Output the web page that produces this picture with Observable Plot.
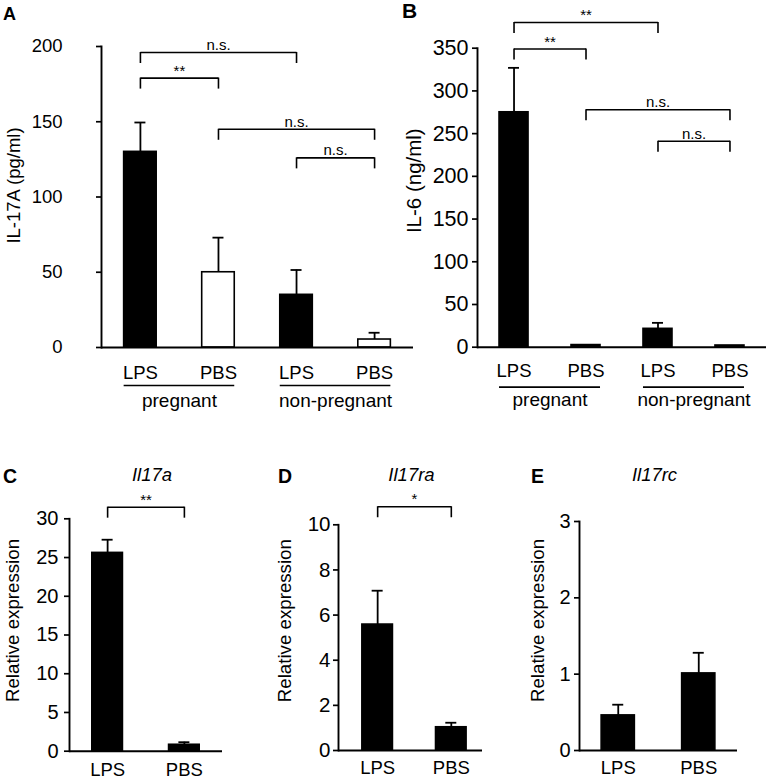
<!DOCTYPE html>
<html>
<head>
<meta charset="utf-8">
<script src="https://cdn.jsdelivr.net/npm/d3@7"></script>
<script src="https://cdn.jsdelivr.net/npm/@observablehq/plot@0.6"></script>
<style>
  body { margin: 0; background: #fff; }
  #fig { position: relative; width: 767px; height: 779px; overflow: hidden; background: #fff;
         font-family: "Liberation Sans", Arial, Helvetica, sans-serif; color: #000; }
  .panel { position: absolute; }
  .lbl { position: absolute; line-height: 1; white-space: nowrap; }
</style>
</head>
<body>
<div id="fig"></div>
<script>
const FONT = '"Liberation Sans", Arial, Helvetica, sans-serif';

// ---------- data ----------
const treatments = ["LPS", "PBS"];
const groups = ["pregnant", "non-pregnant"];

// Panel A: IL-17A (pg/ml), order LPS/PBS pregnant, LPS/PBS non-pregnant
const il17aMean = [130, 50, 35, 5.3];
const il17aSem  = [19.5, 23, 16.5, 4.5];
const il17aTicks = [0, 50, 100, 150, 200];
const bracketsA = [
  { a: "LPS|pregnant", b: "LPS|non-pregnant", y: 196, label: "n.s." },
  { a: "LPS|pregnant", b: "PBS|pregnant", y: 179, label: "**" },
  { a: "PBS|pregnant", b: "PBS|non-pregnant", y: 145, label: "n.s." },
  { a: "LPS|non-pregnant", b: "PBS|non-pregnant", y: 126, label: "n.s." }
];

// Panel B: IL-6 (ng/ml)
const il6Mean = [275, 2.5, 21.5, 2];
const il6Sem  = [52, 0, 7, 0];
const il6Ticks = [0, 50, 100, 150, 200, 250, 300, 350];
const bracketsB = [
  { a: "LPS|pregnant", b: "LPS|non-pregnant", y: 380, label: "**" },
  { a: "LPS|pregnant", b: "PBS|pregnant", y: 349, label: "**" },
  { a: "PBS|pregnant", b: "PBS|non-pregnant", y: 278, label: "n.s." },
  { a: "LPS|non-pregnant", b: "PBS|non-pregnant", y: 241, label: "n.s." }
];

// Panels C-E: relative expression, LPS vs PBS
const il17aRelMean = [25.6, 0.83];
const il17aRelSem  = [1.7, 0.33];
const il17aRelTicks = [0, 5, 10, 15, 20, 25, 30];
const bracketsC = [{ a: "LPS", b: "PBS", y: 31.5, label: "**" }];

const il17raMean = [5.58, 1.03];
const il17raSem  = [1.5, 0.2];
const il17raTicks = [0, 2, 4, 6, 8, 10];
const bracketsD = [{ a: "LPS", b: "PBS", y: 10.8, label: "*" }];

const il17rcMean = [0.46, 1.01];
const il17rcSem  = [0.14, 0.27];
const il17rcTicks = [0, 1, 2, 3];
const bracketsE = [];

// ---------- drawing ----------
const groupedCats = groups.flatMap(g => treatments.map(t => `${t}|${g}`));
const fig = document.getElementById("fig");

function drawPanel(c) {
  const n = c.cats.length;
  const range = c.width - c.marginLeft - c.marginRight;
  const step = range / (n - c.pIn + 2 * c.pOut);
  const bw = step * (1 - c.pIn);
  const capInset = (bw - 11) / 2;
  const idx = k => c.cats.indexOf(k);
  const data = c.cats.map((k, i) => ({ k, t: k.split("|")[0], v: c.means[i], e: c.sems[i] }));
  const withErr = data.filter(d => d.e > 0);
  const drops = c.brackets.flatMap(b => [{ x: b.a, y: b.y }, { x: b.b, y: b.y }]);
  const bfs = 15;

  const marks = [
    Plot.barY(data, {
      x: "k", y: "v",
      fill: d => (c.hollowPBS && d.t === "PBS") ? "white" : "black",
      stroke: "black", strokeWidth: 1.6
    }),
    Plot.ruleX(withErr, { x: "k", y1: "v", y2: d => d.v + d.e, strokeWidth: 1.8 }),
    Plot.tickY(withErr, { x: "k", y: d => d.v + d.e, insetLeft: capInset, insetRight: capInset, strokeWidth: 1.8 }),
    Plot.ruleY([0], { strokeWidth: 1.9 }),
    Plot.frame({ anchor: "left", strokeWidth: 1.9 }),
    Plot.axisY({ ticks: c.yTicks, tickSize: 5, tickPadding: c.tickPadding, fontSize: c.tickFontSize,
                 tickFormat: d => String(d), label: null, strokeWidth: 1.7 }),
    Plot.axisX({ tickSize: 0, tickPadding: c.xPad, fontSize: 18.5, label: null,
                 tickFormat: d => d.split("|")[0] }),
    Plot.text([c.yLabel], { frameAnchor: "left", textAnchor: "middle", lineAnchor: "middle",
                            rotate: -90, dx: c.labelDx, dy: c.labelDy,
                            fontSize: c.yLabelSize, text: d => d }),
    Plot.link(c.brackets, { x1: "a", x2: "b", y1: "y", y2: "y", strokeWidth: 1.6 }),
    Plot.ruleX(drops, { x: "x", y1: "y", y2: "y", insetBottom: -11, strokeWidth: 1.6 }),
    ...c.brackets.map(b => Plot.text([b], {
      x: "a", y: "y", text: "label", fontSize: bfs,
      dx: (idx(b.b) - idx(b.a)) * step / 2, dy: -2.5 - 0.32 * bfs
    }))
  ];

  if (c.grouped) {
    const spans = groups.map(g => ({ g, a: `LPS|${g}`, b: `PBS|${g}` }));
    marks.push(
      Plot.ruleY(spans, { x1: "a", x2: "b", y: () => 0, dy: c.groupDy, strokeWidth: 1.7 }),
      Plot.text(spans, { x: "a", y: () => 0, text: "g", fontSize: 19, dx: step / 2, dy: 59 - 0.32 * 19 })
    );
  }

  const chart = Plot.plot({
    width: c.width, height: c.height,
    marginLeft: c.marginLeft, marginRight: c.marginRight,
    marginTop: c.marginTop, marginBottom: c.marginBottom,
    style: `background: transparent; overflow: visible; font-family: ${FONT}; color: #000;`,
    x: { type: "band", domain: c.cats, paddingInner: c.pIn, paddingOuter: c.pOut,
         align: c.align ?? 0.5, round: false },
    y: { domain: c.yDomain, nice: false },
    marks
  });

  const div = document.createElement("div");
  div.className = "panel";
  div.style.left = c.left + "px";
  div.style.top = c.top + "px";
  div.style.width = c.width + "px";
  div.style.height = c.height + "px";
  div.appendChild(chart);
  fig.appendChild(div);
}

drawPanel({
  left: 0, top: 0, width: 413, height: 415,
  marginLeft: 101, marginRight: 0, marginTop: 46, marginBottom: 68,
  cats: groupedCats, means: il17aMean, sems: il17aSem, hollowPBS: true,
  yDomain: [0, 200], yTicks: il17aTicks, tickFontSize: 18.5, tickPadding: 34,
  yLabel: "IL-17A (pg/ml)", yLabelSize: 18.5, labelDx: -87, labelDy: -11.5,
  xPad: 18, pIn: 0.583, pOut: 0.29, brackets: bracketsA, grouped: true, groupDy: 38
});

drawPanel({
  left: 380, top: 0, width: 387, height: 415,
  marginLeft: 97, marginRight: 1, marginTop: 47.7, marginBottom: 68.3,
  cats: groupedCats, means: il6Mean, sems: il6Sem, hollowPBS: false,
  yDomain: [0, 350], yTicks: il6Ticks, tickFontSize: 21.5, tickPadding: 4,
  yLabel: "IL-6 (ng/ml)", yLabelSize: 20.5, labelDx: -63.5, labelDy: -17,
  xPad: 16.5, pIn: 0.597, pOut: 0.306, brackets: bracketsB, grouped: true, groupDy: 40
});

drawPanel({
  left: 0, top: 440, width: 230, height: 339,
  marginLeft: 69, marginRight: 8, marginTop: 78.3, marginBottom: 28.3,
  cats: treatments, means: il17aRelMean, sems: il17aRelSem,
  yDomain: [0, 30], yTicks: il17aRelTicks, tickFontSize: 20, tickPadding: 6,
  yLabel: "Relative expression", yLabelSize: 18.7, labelDx: -56.5, labelDy: -14.5,
  xPad: 12, pIn: 0.601, pOut: 0.297, brackets: bracketsC
});

drawPanel({
  left: 250, top: 440, width: 240, height: 339,
  marginLeft: 88, marginRight: 8, marginTop: 84.3, marginBottom: 29,
  cats: treatments, means: il17raMean, sems: il17raSem,
  yDomain: [0, 10], yTicks: il17raTicks, tickFontSize: 20.5, tickPadding: 3,
  yLabel: "Relative expression", yLabelSize: 18.7, labelDx: -53.5, labelDy: -17,
  xPad: 10, pIn: 0.585, pOut: 0.27, align: 0.6, brackets: bracketsD
});

drawPanel({
  left: 500, top: 440, width: 267, height: 339,
  marginLeft: 79, marginRight: 30, marginTop: 81, marginBottom: 29,
  cats: treatments, means: il17rcMean, sems: il17rcSem,
  yDomain: [0, 3], yTicks: il17rcTicks, tickFontSize: 20, tickPadding: 4,
  yLabel: "Relative expression", yLabelSize: 18.7, labelDx: -41.5, labelDy: -15.5,
  xPad: 10, pIn: 0.5875, pOut: 0.275, brackets: bracketsE
});

// panel letters and gene titles
const panelLetters = [
  { t: "A", x: 3, base: 20, fs: 18 },
  { t: "B", x: 402, base: 18, fs: 21 },
  { t: "C", x: 3, base: 484, fs: 19.5 },
  { t: "D", x: 278, base: 484, fs: 19.5 },
  { t: "E", x: 531, base: 484, fs: 19.5 }
];
const geneTitles = [
  { t: "Il17a", cx: 152 },
  { t: "Il17ra", cx: 411.5 },
  { t: "Il17rc", cx: 654.5 }
];
panelLetters.forEach(p => {
  const d = document.createElement("div");
  d.className = "lbl";
  d.textContent = p.t;
  d.style.left = p.x + "px";
  d.style.top = (p.base - 0.8465 * p.fs) + "px";
  d.style.fontSize = p.fs + "px";
  d.style.fontWeight = "bold";
  fig.appendChild(d);
});
geneTitles.forEach(g => {
  const fs = 18.5;
  const d = document.createElement("div");
  d.className = "lbl";
  d.textContent = g.t;
  d.style.left = (g.cx - 50) + "px";
  d.style.width = "100px";
  d.style.textAlign = "center";
  d.style.top = (482 - 0.8465 * fs) + "px";
  d.style.fontSize = fs + "px";
  d.style.fontStyle = "italic";
  fig.appendChild(d);
});
</script>
</body>
</html>
